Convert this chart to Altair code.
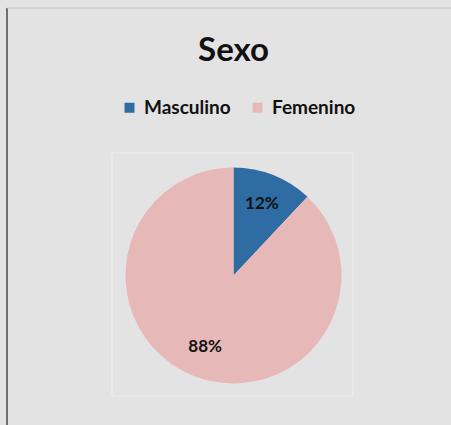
import altair as alt
import pandas as pd

categories = ["Masculino", "Femenino"]
values = [12, 88]
labels = ["12%", "88%"]
colors = ["#2f6ca3", "#e6b9b8"]

df = pd.DataFrame({"sexo": categories, "valor": values, "etiqueta": labels, "orden": [0, 1]})

CX, CY, R = 233.5, 275.5, 108

base = alt.Chart(df).encode(
    theta=alt.Theta("valor:Q", stack=True),
    order=alt.Order("orden:Q"),
)

pie = base.mark_arc(stroke=None).encode(
    color=alt.Color(
        "sexo:N",
        scale=alt.Scale(domain=categories, range=colors),
        sort=categories,
        legend=alt.Legend(
            title=None,
            orient="none",
            direction="horizontal",
            legendX=120,
            legendY=98,
            symbolType="square",
            symbolSize=100,
            symbolStrokeWidth=0,
            labelFont="Lato",
            labelFontSize=19,
            labelFontWeight="bold",
            labelColor="#111111",
            labelOffset=5,
            columnPadding=17,
        ),
    ),
    x=alt.value(CX),
    y=alt.value(CY),
    radius=alt.value(R),
)

text = base.mark_text(font="Lato", fontSize=17, fontWeight="bold", color="#111111").encode(
    text="etiqueta:N",
    x=alt.value(CX),
    y=alt.value(CY),
    radius=alt.value(77),
)

frame_df = pd.DataFrame({"k": [0]})
left_rule = alt.Chart(frame_df).mark_rule(color="#707070", strokeWidth=2).encode(
    x=alt.value(7), y=alt.value(8), y2=alt.value(425)
)
top_rule = alt.Chart(frame_df).mark_rule(color="#c4c4c4", strokeWidth=1).encode(
    x=alt.value(7), x2=alt.value(451), y=alt.value(8)
)
plot_box = alt.Chart(frame_df).mark_rect(fill=None, stroke="#efefef", strokeWidth=1).encode(
    x=alt.value(112), x2=alt.value(353), y=alt.value(153), y2=alt.value(396)
)

chart = alt.layer(left_rule, top_rule, plot_box, pie, text).properties(
    width=451,
    height=425,
    padding=0,
    autosize=alt.AutoSizeParams(type="none"),
    background="#e3e3e3",
    title=alt.TitleParams(
        "Sexo",
        font="Lato",
        fontSize=33,
        fontWeight="bold",
        color="#111111",
        anchor="middle",
        dy=72,
        dx=8,
    ),
).configure_view(stroke=None)

chart.save("out.html", embed_options={"renderer": "svg", "actions": False})
